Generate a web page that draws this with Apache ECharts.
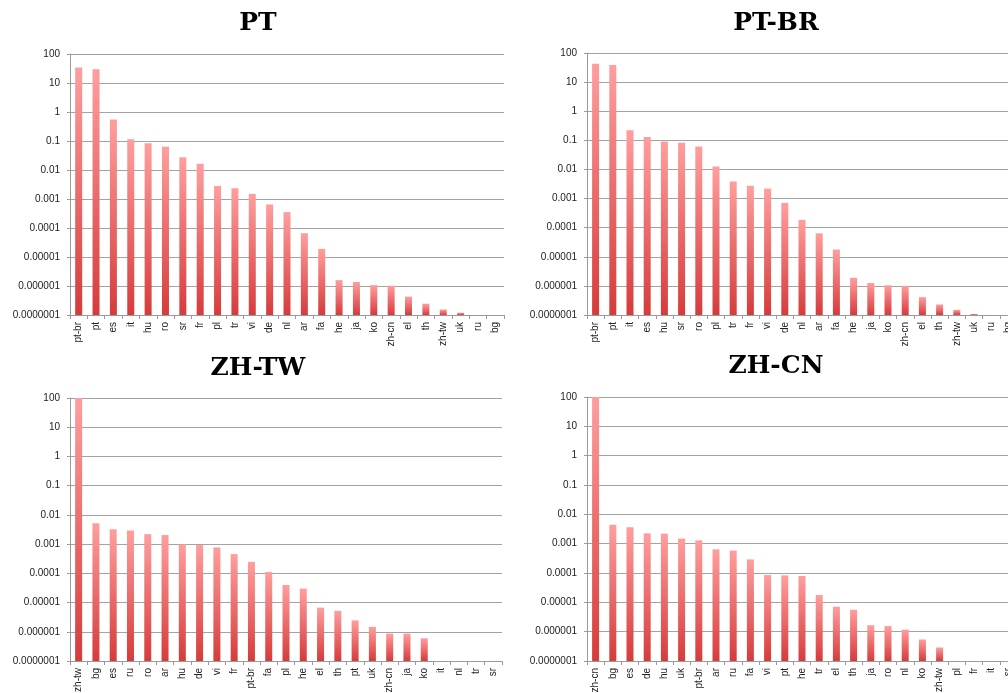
<!DOCTYPE html>
<html>
<head>
<meta charset="utf-8">
<script src="https://cdn.jsdelivr.net/npm/echarts@6/dist/echarts.min.js"></script>
<style>
html,body{margin:0;padding:0;background:#fff;}
#chart{width:1008px;height:693px;}
</style>
</head>
<body>
<div id="chart"></div>
<script>
// ---- Data ----
var titles = ['PT', 'PT-BR', 'ZH-TW', 'ZH-CN'];

var ptCats = ['pt-br','pt','es','it','hu','ro','sr','fr','pl','tr','vi','de','nl','ar','fa','he','ja','ko','zh-cn','el','th','zh-tw','uk','ru','bg'];
var ptVals = [34, 29.6, 0.55, 0.115, 0.084, 0.063, 0.0275, 0.0163, 0.0028, 0.00235, 0.0015, 0.00065, 0.000353, 0.000066, 0.000019, 1.6e-6, 1.37e-6, 1.07e-6, 1.02e-6, 4.3e-7, 2.45e-7, 1.55e-7, 1.2e-7, null, null];

var ptbrCats = ['pt-br','pt','it','es','hu','sr','ro','pl','tr','fr','vi','de','nl','ar','fa','he','ja','ko','zh-cn','el','th','zh-tw','uk','ru','bg'];
var ptbrVals = [43, 38.6, 0.22, 0.129, 0.091, 0.082, 0.062, 0.0126, 0.00385, 0.00275, 0.0022, 0.00071, 0.000186, 0.000064, 0.0000178, 1.9e-6, 1.26e-6, 1.05e-6, 1.0e-6, 4.1e-7, 2.3e-7, 1.5e-7, 1.08e-7, null, null];

var zhtwCats = ['zh-tw','bg','es','ru','ro','ar','hu','de','vi','fr','pt-br','fa','pl','he','el','th','pt','uk','zh-cn','ja','ko','it','nl','tr','sr'];
var zhtwVals = [100, 0.0052, 0.0032, 0.00293, 0.0022, 0.00204, 0.00098, 0.00093, 0.00077, 0.000456, 0.000247, 0.000111, 0.00004, 0.00003, 6.7e-6, 5.2e-6, 2.46e-6, 1.48e-6, 8.7e-7, 8.7e-7, 6.0e-7, null, null, null, null];

var zhcnCats = ['zh-cn','bg','es','de','hu','uk','pt-br','ar','ru','fa','vi','pt','he','tr','el','th','ja','ro','nl','ko','zh-tw','pl','fr','it','sr'];
var zhcnVals = [100, 0.0044, 0.0036, 0.00225, 0.0022, 0.00149, 0.0013, 0.00064, 0.00058, 0.00029, 0.000085, 0.000083, 0.000079, 0.0000178, 7.1e-6, 5.6e-6, 1.66e-6, 1.55e-6, 1.18e-6, 5.4e-7, 2.9e-7, null, null, null, null];

var yTickLabels = ['0.0000001','0.000001','0.00001','0.0001','0.001','0.01','0.1','1','10','100'];

// ---- Layout ----
var YMIN = 1e-7, YMAX = 100;
var grids = [
  {left: 70, top: 54, width: 434, height: 261, outerBoundsMode: 'none'},
  {left: 587, top: 53, width: 430, height: 262, outerBoundsMode: 'none'},
  {left: 70, top: 398, width: 432, height: 263, outerBoundsMode: 'none'},
  {left: 587, top: 397, width: 430, height: 264, outerBoundsMode: 'none'}
];
var titlePos = [[258, 23], [776, 23], [258, 368], [776, 366]];

var cats = [ptCats, ptbrCats, zhtwCats, zhcnCats];
var vals = [ptVals, ptbrVals, zhtwVals, zhcnVals];

var barGradient = new echarts.graphic.LinearGradient(0, 0, 0, 1, [
  {offset: 0, color: '#ff9e9e'},
  {offset: 1, color: '#d63b3b'}
]);

function renderBar(params, api) {
  var v = api.value(1);
  if (v == null || isNaN(v)) return;
  var top = api.coord([api.value(0), v]);
  var base = api.coord([api.value(0), YMIN]);
  var w = 7;
  return {
    type: 'rect',
    shape: {x: top[0] - w / 2, y: top[1], width: w, height: base[1] - top[1]},
    style: {fill: barGradient}
  };
}

var option = {
  animation: false,
  backgroundColor: '#ffffff',
  grid: grids,
  xAxis: [], yAxis: [], series: [],
  graphic: []
};

for (var i = 0; i < 4; i++) {
  option.xAxis.push({
    type: 'category', gridIndex: i, data: cats[i], boundaryGap: true,
    axisLine: {lineStyle: {color: '#9a9a9a', width: 1}},
    axisTick: {show: true, length: 4, alignWithLabel: false, interval: 0, lineStyle: {color: '#9a9a9a'}},
    axisLabel: {interval: 0, rotate: 90, fontSize: 10, color: '#222', fontFamily: 'Liberation Sans, Arial, sans-serif', margin: 7},
    splitLine: {show: false}
  });
  option.yAxis.push({
    type: 'log', logBase: 10, gridIndex: i, min: YMIN, max: YMAX, splitNumber: 9,
    axisLine: {show: true, lineStyle: {color: '#9a9a9a', width: 1}},
    axisTick: {show: true, length: 3, inside: false, lineStyle: {color: '#9a9a9a'}},
    axisLabel: {
      fontSize: 10, color: '#222', fontFamily: 'Liberation Sans, Arial, sans-serif', margin: 10,
      formatter: function (v) {
        var e = Math.round(Math.log(v) / Math.LN10);
        return yTickLabels[e + 7];
      }
    },
    splitLine: {show: true, lineStyle: {color: '#a3a3a3', width: 1}}
  });
  var d = [];
  for (var j = 0; j < cats[i].length; j++) {
    if (vals[i][j] != null) d.push([j, vals[i][j]]);
  }
  option.series.push({
    type: 'custom', xAxisIndex: i, yAxisIndex: i,
    renderItem: renderBar,
    encode: {x: 0, y: 1},
    data: d,
    clip: false
  });
  option.graphic.push({
    type: 'text', x: titlePos[i][0], y: titlePos[i][1],
    style: {
      text: titles[i], fill: '#000', align: 'center', verticalAlign: 'middle',
      font: 'bold 25px "DejaVu Serif", serif'
    }
  });
}

var chart = echarts.init(document.getElementById('chart'));
chart.setOption(option);
</script>
</body>
</html>
